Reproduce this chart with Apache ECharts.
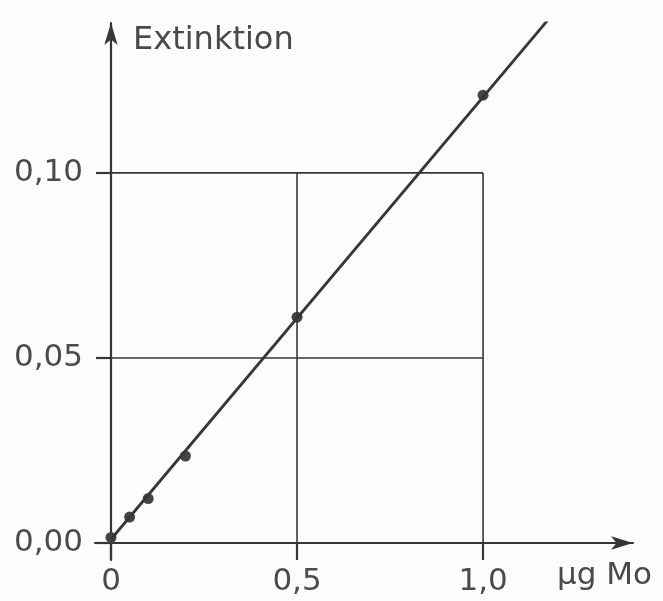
<!DOCTYPE html>
<html lang="de">
<head>
    <meta charset="UTF-8">
    <title>Extinktion – µg Mo</title>
    <script src="https://cdn.jsdelivr.net/npm/echarts@6/dist/echarts.min.js"></script>
    <style>
        html, body { margin: 0; padding: 0; background: #fcfcfb; }
        #chart { width: 663px; height: 601px; }
    </style>
</head>
<body>
    <div id="chart"></div>
    <script>
        // Messpunkte (µg Mo, Extinktion)
        var moValues = [0, 0.05, 0.1, 0.2, 0.5, 1.0];
        var extValues = [0.0015, 0.007, 0.012, 0.0235, 0.061, 0.121];

        // Eichgerade (Anfang und Ende)
        var fitX = [0, 1.18];
        var fitY = [0.001, 0.142];

        // Achsenteilung
        var xTicks = [0, 0.5, 1.0];
        var xTickLabels = ['0', '0,5', '1,0'];
        var yTicks = [0, 0.05, 0.10];
        var yTickLabels = ['0,00', '0,05', '0,10'];

        // Gitterlinien nur im Bereich 0..1,0 / 0..0,10
        var gridX = [0.5, 1.0];
        var gridY = [0.05, 0.10];

        var ink = '#363636';
        var textColor = '#4a4a4a';
        var font = 'DejaVu Sans';

        var chart = echarts.init(document.getElementById('chart'));

        var series = [];

        gridX.forEach(function (gx) {
            series.push({
                type: 'line', data: [[gx, 0], [gx, yTicks[yTicks.length - 1]]],
                symbol: 'none', silent: true,
                lineStyle: { color: ink, width: 1.6 }
            });
        });
        gridY.forEach(function (gy) {
            series.push({
                type: 'line', data: [[0, gy], [xTicks[xTicks.length - 1], gy]],
                symbol: 'none', silent: true,
                lineStyle: { color: ink, width: 1.6 }
            });
        });

        series.push({
            type: 'line',
            data: fitX.map(function (x, i) { return [x, fitY[i]]; }),
            symbol: 'none',
            lineStyle: { color: ink, width: 2.8 }
        });

        series.push({
            type: 'scatter',
            data: moValues.map(function (x, i) { return [x, extValues[i]]; }),
            symbolSize: 11,
            itemStyle: { color: '#444', opacity: 1 }
        });

        var option = {
            animation: false,
            grid: { left: 95, right: 30, top: 23, bottom: 41, outerBoundsMode: 'none', containLabel: false },
            xAxis: {
                type: 'value',
                min: -0.043, max: 1.403,
                axisLine: {
                    onZero: true,
                    symbol: ['none', 'arrow'],
                    symbolSize: [10, 22],
                    lineStyle: { color: ink, width: 2.2 }
                },
                axisTick: {
                    customValues: xTicks, length: 17,
                    lineStyle: { color: ink, width: 2.2 }
                },
                axisLabel: {
                    customValues: xTicks, margin: 6,
                    color: textColor, fontFamily: font, fontSize: 31,
                    formatter: function (v) {
                        var i = xTicks.indexOf(v);
                        return i >= 0 ? xTickLabels[i] : '';
                    }
                },
                splitLine: { show: false }
            },
            yAxis: {
                type: 'value',
                min: -0.0046, max: 0.1405,
                axisLine: {
                    onZero: true,
                    show: true,
                    symbol: ['none', 'arrow'],
                    symbolSize: [10, 22],
                    lineStyle: { color: ink, width: 2.2 }
                },
                axisTick: {
                    show: true,
                    customValues: yTicks, length: 15,
                    lineStyle: { color: ink, width: 2.2 }
                },
                axisLabel: {
                    customValues: yTicks, margin: 12,
                    color: textColor, fontFamily: font, fontSize: 31,
                    formatter: function (v) {
                        var i = yTicks.indexOf(v);
                        return i >= 0 ? yTickLabels[i] : '';
                    }
                },
                splitLine: { show: false }
            },
            graphic: [
                {
                    type: 'text', left: 133, top: 25,
                    style: { text: 'Extinktion', fill: textColor, font: '32px "DejaVu Sans"' }
                },
                {
                    type: 'text', left: 557, top: 560,
                    style: { text: 'µg Mo', fill: textColor, font: '31px "DejaVu Sans"' }
                }
            ],
            series: series
        };

        chart.setOption(option);
    </script>
</body>
</html>
